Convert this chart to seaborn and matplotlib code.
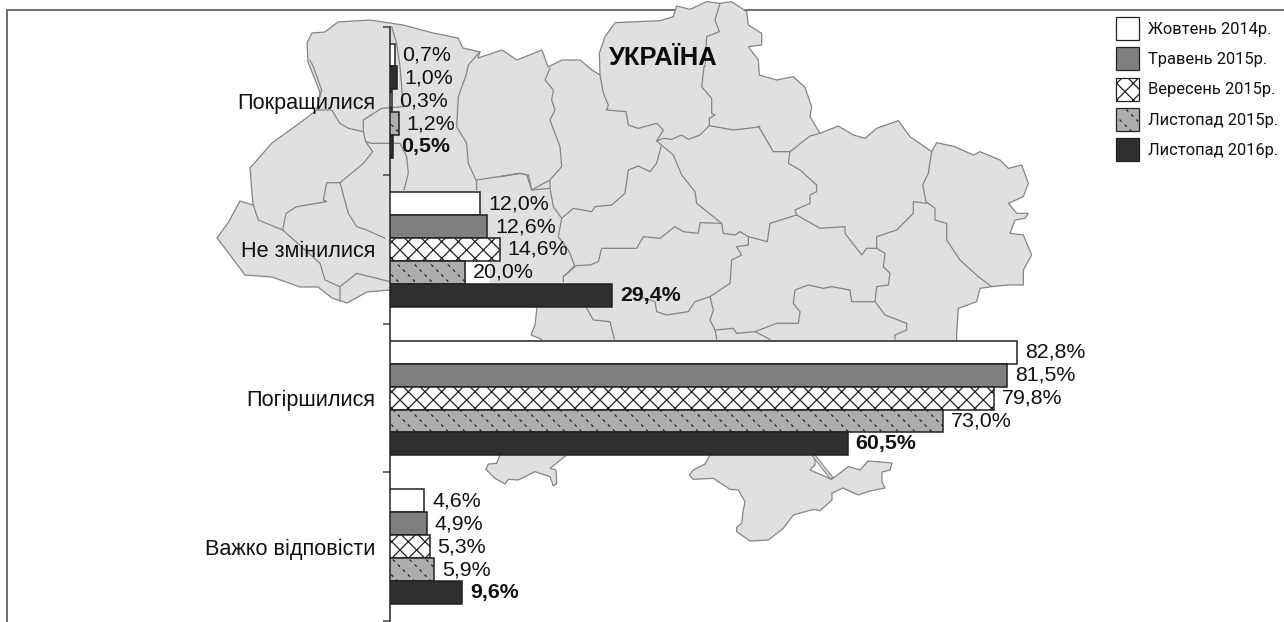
import numpy as np
import pandas as pd
import seaborn as sns
import matplotlib
matplotlib.use("Agg")
import matplotlib.pyplot as plt
import matplotlib.hatch as mhatch
from matplotlib.path import Path
from matplotlib.patches import Patch, Polygon, Rectangle

# ---------- data ----------
categories = ["Покращилися", "Не змінилися", "Погіршилися", "Важко відповісти"]
periods = ["Жовтень 2014р.", "Травень 2015р.", "Вересень 2015р.", "Листопад 2015р.", "Листопад 2016р."]
oct_2014 = [0.7, 12.0, 82.8, 4.6]
may_2015 = [1.0, 12.9, 81.5, 4.9]   # the 12,6% bar is drawn slightly longer in the original
sep_2015 = [0.3, 14.6, 79.8, 5.3]
nov_2015 = [1.2, 10.0, 73.0, 5.9]   # the bar is drawn at 10 in the original, its label says 20,0%
nov_2016 = [0.5, 29.4, 60.5, 9.6]
labels_oct_2014 = ["0,7%", "12,0%", "82,8%", "4,6%"]
labels_may_2015 = ["1,0%", "12,6%", "81,5%", "4,9%"]
labels_sep_2015 = ["0,3%", "14,6%", "79,8%", "5,3%"]
labels_nov_2015 = ["1,2%", "20,0%", "73,0%", "5,9%"]
labels_nov_2016 = ["0,5%", "29,4%", "60,5%", "9,6%"]

series = [oct_2014, may_2015, sep_2015, nov_2015, nov_2016]
series_labels = [labels_oct_2014, labels_may_2015, labels_sep_2015, labels_nov_2015, labels_nov_2016]
df = pd.DataFrame([
    {"cat": c, "period": p, "value": v}
    for p, vals in zip(periods, series) for c, v in zip(categories, vals)
])

# ---------- background map outline (image pixels), decoration only ----------
z1 = lambda pts: [(200 + x / 3, y / 3) for x, y in pts]
z4 = lambda pts: [(560 + x / 3, y / 3) for x, y in pts]
z5 = lambda pts: [(460 + x / 3, 440 + y / 3) for x, y in pts]
z9 = lambda pts: [(500 + x / 3, 60 + y / 3) for x, y in pts]

outer = (
    [(217, 238), (228, 223), (240, 201), (253, 205), (250, 168), (272, 143), (297, 125), (317, 110),
     (320, 92), (308, 62), (307, 43), (312, 33), (325, 32), (338, 22), (370, 20), (403, 25), (433, 33),
     (458, 38), (463, 48), (480, 52), (478, 58), (502, 50), (517, 60), (542, 50), (548, 67), (562, 60),
     (580, 60), (592, 70), (600, 75)]
    + z4([(118, 160), (135, 110), (165, 68), (300, 62), (340, 50), (350, 18), (390, 28), (440, 5), (480, 10),
          (515, 5), (560, 35), (565, 75), (605, 100), (605, 135), (565, 140), (595, 180), (598, 225), (650, 240),
          (700, 230), (735, 262), (755, 320), (750, 350), (780, 400), (835, 378), (880, 405), (915, 415),
          (950, 385), (1015, 362), (1050, 410), (1115, 455), (1130, 428), (1185, 440), (1240, 465), (1260, 455),
          (1320, 480), (1345, 505), (1385, 495), (1405, 550), (1390, 590), (1345, 610), (1370, 640), (1405, 640),
          (1395, 655), (1365, 660), (1350, 700), (1390, 705), (1415, 765), (1390, 810), (1390, 855), (1345, 855),
          (1295, 860), (1260, 865), (1250, 905), (1195, 925), (1190, 1000), (1190, 1030)])
    + [(880, 350), (700, 430), (567, 450)]
    + z5([(320, 45), (270, 85), (288, 90), (290, 130), (280, 138), (270, 110), (225, 95), (175, 120), (145, 118),
          (135, 132), (105, 115), (78, 88), (85, 72), (110, 70), (120, 45)])
    + [(500, 445), (541, 345), (541, 339), (531, 335), (535, 325), (537, 307), (530, 298), (390, 295), (390, 290),
       (367, 292), (347, 303), (332, 298), (318, 287), (300, 287), (272, 277), (245, 275), (230, 255)]
)
crimea = z5([(1065, 0), (1065, 50), (1065, 75), (1050, 90), (1115, 118), (1165, 80), (1200, 90)]) + [
    (868, 461), (892, 463), (890, 470), (882, 472), (882, 482), (885, 488), (870, 491), (858, 495), (843, 488),
    (832, 493), (832, 500)] + z5([(1080, 212), (1060, 208), (1000, 225), (970, 265), (925, 300), (870, 303),
                                  (830, 275), (830, 262), (845, 250), (850, 210), (855, 185), (835, 150),
                                  (810, 148), (760, 115), (700, 118), (688, 105), (700, 90), (735, 72), (750, 45),
                                  (750, 0)])
borders = [
    z1([(350, 330), (395, 330), (420, 370), (445, 385), (490, 395), (497, 425), (518, 455), (490, 490), (460, 515),
        (420, 548), (445, 640), (470, 680), (500, 690), (555, 715)]),
    z1([(420, 548), (380, 548), (370, 600), (380, 605), (290, 620), (258, 640), (248, 690), (175, 660), (160, 615)]),
    z1([(248, 690), (310, 745), (360, 790), (375, 840), (420, 860), (420, 905)]),
    z1([(420, 860), (470, 820), (570, 845)]),
    z1([(490, 395), (490, 360), (545, 325), (610, 320)]),
    z1([(497, 425), (515, 430), (600, 430), (620, 470), (625, 520), (612, 570)]),
    z1([(350, 330), (365, 270), (340, 200), (330, 180)]),
    z1([(575, 80), (590, 130), (600, 200), (610, 320)]),
    z1([(840, 155), (805, 195), (800, 220), (775, 290), (770, 380), (800, 430), (805, 490), (830, 545), (830, 570)]),
    z1([(830, 540), (960, 520), (985, 525), (995, 570), (1050, 540)]),
    z9([(150, 25), (135, 60), (160, 90), (155, 120), (165, 150), (150, 180), (165, 220), (180, 260), (185, 320),
        (150, 360), (150, 385), (160, 440), (185, 475), (175, 530), (205, 570), (225, 620), (190, 650), (190, 665)]),
    z9([(150, 385), (95, 390), (80, 345), (60, 340), (0, 350)]),
    z9([(185, 475), (220, 445), (275, 455), (285, 440), (335, 435), (375, 400), (385, 330), (415, 318), (450, 335),
        (470, 310), (483, 260)]),
    z9([(300, 45), (310, 100), (325, 135), (320, 150), (378, 155), (385, 195), (415, 205), (470, 190), (490, 210),
        (470, 243), (520, 285), (545, 345), (585, 395), (590, 430), (665, 490)]),
    z9([(470, 243), (490, 235), (515, 238), (545, 225), (565, 238), (600, 225), (628, 197), (700, 210), (745, 205),
        (780, 200)]),
    z4([(480, 10), (465, 60), (478, 95), (440, 110), (435, 200)])
    + z9([(612, 20), (605, 80), (635, 115), (635, 160), (645, 165), (628, 175), (628, 197)]),
    z4([(595, 378), (640, 455), (690, 455), (750, 408), (780, 400)]),
    z4([(690, 455), (685, 490), (720, 510), (770, 555), (770, 575), (750, 585), (750, 610), (705, 630), (710, 645)]),
    z4([(710, 645), (630, 670), (622, 725), (565, 710)]),
    z4([(710, 645), (780, 685), (855, 680), (855, 700), (905, 765), (920, 745), (950, 745), (950, 710), (1010, 690),
        (1060, 640), (1060, 605), (1100, 610)]),
    z4([(1115, 455), (1105, 520), (1088, 555), (1098, 605), (1125, 625), (1125, 660), (1160, 670), (1160, 720),
        (1200, 780), (1255, 830), (1295, 860)]),
    z4([(950, 745), (975, 760), (970, 800), (990, 820), (985, 855), (950, 860), (945, 905), (875, 905), (870, 870),
        (815, 860), (790, 865), (745, 855), (705, 870), (700, 910), (720, 935), (715, 970), (650, 970), (585, 995),
        (530, 1000), (520, 985), (465, 990), (450, 960), (460, 930), (450, 890), (510, 850), (515, 780), (545, 765),
        (530, 740), (565, 735), (565, 710), (540, 695), (525, 705), (490, 700), (485, 670), (420, 668), (415, 700),
        (370, 695), (345, 680), (300, 715), (250, 710), (230, 745), (125, 745), (115, 785), (90, 795), (45, 797),
        (10, 830)]),
    z4([(945, 905), (975, 945), (1040, 970), (1040, 990), (1005, 1005), (1005, 1018)]),
    z4([(585, 995), (630, 1018)]),
    z4([(450, 890), (405, 905), (385, 935), (320, 945), (290, 935), (285, 905), (240, 890)]),
    z4([(80, 925), (100, 960), (150, 965), (163, 1018)]),
    z4([(465, 990), (470, 1018)]),
]
spit = z5([(1065, 45), (1118, 112), (1112, 118), (1055, 45)])


# ---------- dotted diagonal hatch ('.' is redefined to this pattern) ----------
class DottedDiagonal(mhatch.HatchPatternBase):
    lines = 6
    dots = 20

    def __init__(self, hatch, density):
        self.on = hatch.count(".") > 0
        self.num_vertices = 2 * self.lines * self.dots if self.on else 0

    def set_vertices_and_codes(self, vertices, codes):
        i = 0
        for k in range(self.lines):
            for d in range(self.dots):
                t = d / self.dots
                x = (t + k / self.lines) % 1.0
                y = 1.0 - t
                vertices[i] = (x, y)
                vertices[i + 1] = (x + 0.012, y - 0.012)
                codes[i] = Path.MOVETO
                codes[i + 1] = Path.LINETO
                i += 2


mhatch._hatch_types = [t for t in mhatch._hatch_types if t is not mhatch.SmallFilledCircles] + [DottedDiagonal]

# ---------- figure ----------
sns.set_theme(style="white")
plt.rcParams["font.family"] = ["Liberation Sans", "DejaVu Sans"]
plt.rcParams["hatch.linewidth"] = 0.9
W, H = 1284, 622
fig = plt.figure(figsize=(W / 100, H / 100), dpi=100, facecolor="white")

EDGE = "#222222"
MAP_FILL = "#e0e0e0"
MAP_LINE = "#858585"

bg = fig.add_axes([0, 0, 1, 1], zorder=0)
bg.set_xlim(0, W)
bg.set_ylim(H, 0)
bg.axis("off")
bg.plot([7, 7, W], [H, 10, 10], color="#707070", lw=1.4, zorder=1, solid_joinstyle="miter")
bg.add_patch(Polygon(outer, closed=True, fc=MAP_FILL, ec=MAP_LINE, lw=0.9, zorder=2))
bg.add_patch(Polygon(crimea, closed=True, fc=MAP_FILL, ec=MAP_LINE, lw=0.9, zorder=2))
bg.add_patch(Polygon(spit, closed=True, fc=MAP_FILL, ec=MAP_LINE, lw=0.8, zorder=2))
for line in borders:
    xs, ys = zip(*line)
    bg.plot(xs, ys, color=MAP_LINE, lw=0.9, zorder=3)
bg.add_patch(Rectangle((466, 260), 24, 24, fc="white", ec="none", zorder=4))
bg.text(609, 58, "УКРАЇНА", fontsize=18.4, fontweight="bold", color="#0a0a0a", va="center", ha="left", zorder=5)

x0, x1, y_top, y_bot = 389.5, W, 26.5, 621
ax = fig.add_axes([x0 / W, 1 - y_bot / H, (x1 - x0) / W, (y_bot - y_top) / H], zorder=1)
ax.patch.set_alpha(0)

fills = ["#ffffff", "#7f7f7f", "#ffffff", "#adadad", "#2f2f2f"]
hatches = ["", "", "xx", ".", ""]
sns.barplot(data=df, y="cat", x="value", hue="period", order=categories, hue_order=periods, palette=fills,
            saturation=1, width=0.77, gap=0, dodge=True, legend=False, ax=ax, zorder=3)
for cont, hatch, fill, labs, i in zip(ax.containers, hatches, fills, series_labels, range(5)):
    for bar in cont:
        bar.set_edgecolor(EDGE)
        bar.set_linewidth(1.1)
        bar.set_hatch(hatch)
    ax.bar_label(cont, labels=labs, padding=5.5, fontsize=15.4, color="#111111",
                 fontweight="bold" if i == 4 else "normal", zorder=6)
ax.containers[1][0].set_facecolor(fills[4])  # the 1,0% bar is dark in the original

ax.set_xlim(0, (x1 - x0) / 7.58)
ax.set_ylim(3.5, -0.5)
ax.set_xlabel("")
ax.set_ylabel("")
ax.xaxis.set_visible(False)
ax.set_yticks(range(4), categories)
ax.set_yticks(np.arange(-0.5, 4), minor=True)
ax.tick_params(axis="y", which="major", length=0, pad=10, labelsize=15.6, labelcolor="#111111")
ax.tick_params(axis="y", which="minor", length=5, width=1.1, color="#444444", left=True)
for s in ["top", "right", "bottom"]:
    ax.spines[s].set_visible(False)
ax.spines["left"].set_color("#333333")
ax.spines["left"].set_linewidth(1.2)

handles = [Patch(facecolor=f, edgecolor=EDGE, hatch=h, linewidth=0.9) for f, h in zip(fills, hatches)]
fs = 11.9
px = fs * 100 / 72
fig.legend(handles, periods, loc="upper left", bbox_to_anchor=(1116 / W, 1 - 17 / H), bbox_transform=fig.transFigure,
           frameon=False, borderpad=0, borderaxespad=0, handlelength=23 / px,
           handleheight=(16.56 / fs - 0.245) / 0.65, handletextpad=9 / px, labelspacing=7.3 / px,
           prop={"family": ["Roboto", "Liberation Sans"], "size": fs}, labelcolor="#111111")

fig.savefig("out.png", dpi=100)
